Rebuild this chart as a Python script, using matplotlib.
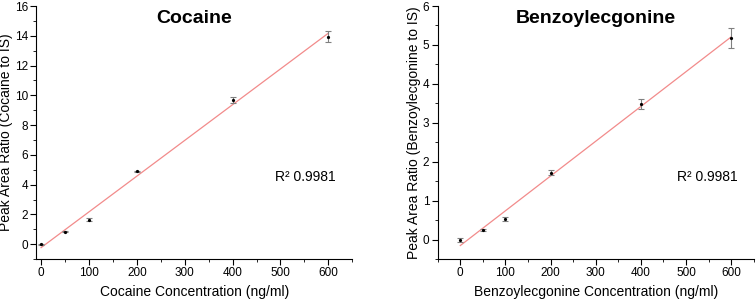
import numpy as np
import matplotlib
matplotlib.use('Agg')
import matplotlib.pyplot as plt
from matplotlib.ticker import MultipleLocator

plt.rcParams['font.family'] = ['Liberation Sans', 'DejaVu Sans']

conc = [0, 50, 100, 200, 400, 600]

coc_ratio = [0.0, 0.85, 1.65, 4.9, 9.7, 13.95]
coc_err = [0.05, 0.05, 0.1, 0.05, 0.2, 0.35]

bze_ratio = [0.0, 0.25, 0.52, 1.72, 3.48, 5.18]
bze_err = [0.05, 0.03, 0.05, 0.06, 0.13, 0.26]

r2_text = ["R\u00b2 0.9981", "R\u00b2 0.9981"]


def panel(ax, y, err, title, name, ylim, ymaj, ymin, xlim, r2pos, r2):
    x = np.array(conc)
    k, b = np.polyfit(x, y, 1)
    ax.plot([0, 600], [b, k * 600 + b], color='#f28b8b', lw=0.9, zorder=1)
    ax.errorbar(x, y, yerr=err, fmt='o', ms=1.3, color='black',
                ecolor='#808080', elinewidth=0.8, capsize=2.5, capthick=0.8,
                zorder=2)
    ax.set_xlim(*xlim)
    ax.set_ylim(*ylim)
    ax.xaxis.set_major_locator(MultipleLocator(100))
    ax.xaxis.set_minor_locator(MultipleLocator(50))
    ax.yaxis.set_major_locator(MultipleLocator(ymaj))
    ax.yaxis.set_minor_locator(MultipleLocator(ymin))
    ax.spines['top'].set_visible(False)
    ax.spines['right'].set_visible(False)
    ax.tick_params(which='both', direction='out', labelsize=8.5, pad=2)
    ax.tick_params(which='major', length=4)
    ax.tick_params(which='minor', length=2.5)
    ax.set_title(title, fontsize=14, fontweight='bold', y=0.9)
    ax.set_xlabel(f'{name} Concentration (ng/ml)', fontsize=10, labelpad=4)
    ax.set_ylabel(f'Peak Area Ratio ({name} to IS)', fontsize=10, labelpad=1)
    ax.text(r2pos[0], r2pos[1], r2, fontsize=10, va='center')


fig = plt.figure(figsize=(7.56, 3.01), dpi=100)
ax1 = fig.add_axes([0.048, 0.139, 0.418, 0.841])
ax2 = fig.add_axes([0.579, 0.139, 0.418, 0.841])

panel(ax1, coc_ratio, coc_err, 'Cocaine', 'Cocaine', (-1, 16), 2, 1,
      (-10, 650), (488, 4.5), r2_text[0])
panel(ax2, bze_ratio, bze_err, 'Benzoylecgonine', 'Benzoylecgonine',
      (-0.5, 6), 1, 0.5, (-50, 650), (479, 1.6), r2_text[1])

fig.savefig('out.png', dpi=100)
